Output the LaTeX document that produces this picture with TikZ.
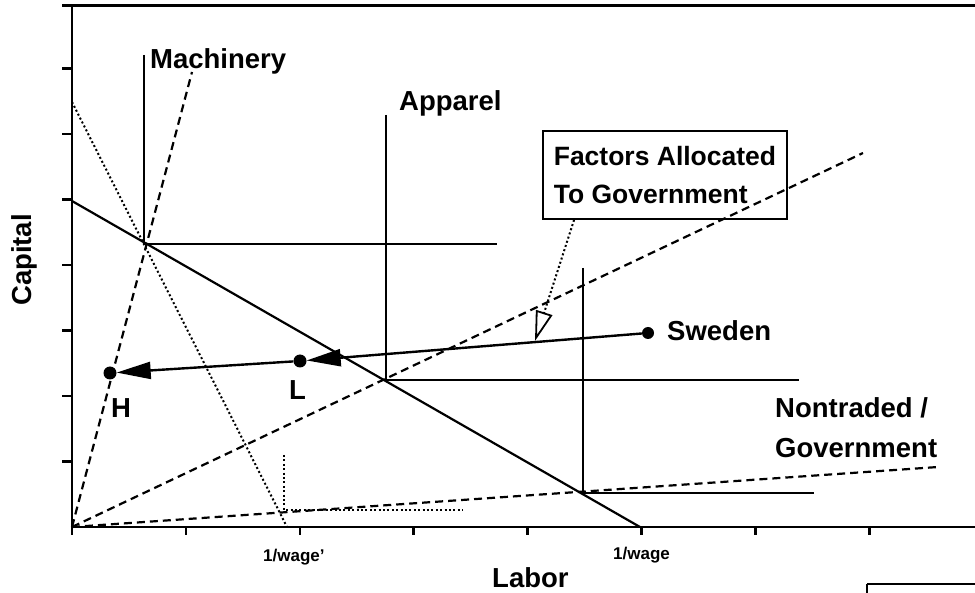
\documentclass[tikz,border=0pt]{standalone}
\usepackage{fontspec}
\setmainfont{Liberation Sans}
\usetikzlibrary{arrows.meta,calc}
\begin{document}
\begin{tikzpicture}[x=1pt,y=-1pt,
  axis/.style={line width=2.5pt},
  iso/.style={line width=2.2pt},
  ray/.style={line width=2.2pt, dash pattern=on 8pt off 5pt},
  dotline/.style={line width=2pt, dash pattern=on 2pt off 2.4pt},
  lbl/.style={font=\fontsize{27.5}{38}\selectfont\bfseries, inner sep=0pt, anchor=base west},
  small/.style={font=\fontsize{17}{20}\selectfont\bfseries, inner sep=0pt, anchor=base west},
  dotnode/.style={circle, fill=black, inner sep=0pt, minimum size=13pt},
  flow/.style={line width=2.4pt, -{Triangle[length=34pt,width=17pt]}},
]
\useasboundingbox (0,0) rectangle (975,593);

% axes and frame
\coordinate (O) at (72,527);
\coordinate (ytop) at (72,5.5);
\coordinate (xend) at (975,527);
\draw[axis] (62,5.5) -- (975,5.5);
\draw[axis] (ytop) -- (O) -- (xend);
\foreach \k in {1,...,7} \draw[axis] (62,527-65.5*\k) -- (72,527-65.5*\k);
\foreach \k in {0,...,7} \draw[axis] (72+113.9*\k,527) -- (72+113.9*\k,535);
% fragment bottom right
\coordinate (fr) at (867,584);
\draw[iso] (fr) -- (975,584);
\draw[iso] (fr) -- (867,593);

% corners of isoquants
\coordinate (mc) at (144,244);
\coordinate (ac) at (386,380);
\coordinate (nc) at (583,493);
\draw[iso] (144,55) -- (mc) -- (497,244);
\draw[iso] (386,115) -- (ac) -- (799,380);
\draw[iso] (583,268) -- (nc) -- (814,493);

% isocost lines
\coordinate (iso1a) at (72,201);
\coordinate (iso1b) at (640,527);
\draw[iso] (iso1a) -- (iso1b);
\coordinate (iso2a) at (72,102);
\coordinate (iso2b) at (287,527);
\draw[dotline] (iso2a) -- (iso2b);
\coordinate (dc) at (284,510);
\draw[dotline] (284,455) -- (dc) -- (463,510);

% rays from origin
\draw[ray] (O) -- (192,72);
\draw[ray] (O) -- (863,153);
\draw[ray] (O) -- (938,467);

% endowment points
\node[dotnode, minimum size=12pt] (sweden) at (648,333) {};
\node[dotnode] (ldot) at (300,361) {};
\node[dotnode] (hdot) at (110,373) {};
\draw[flow] (sweden) -- (ldot);
\draw[flow] (ldot) -- (hdot);

% callout
\node[draw, line width=1.8pt, minimum width=244pt, minimum height=88pt, align=left,
      font=\fontsize{26.5}{38}\selectfont\bfseries, inner sep=0pt] (box) at (665,175)
      {Factors Allocated\\To Government};
\coordinate (ptr) at (535,341);
\draw[dotline, -{Triangle[open,length=30pt,width=17pt,line width=1.8pt]}]
  ($(box.south west)!0.13!(box.south east)$) -- (ptr);

% labels
\node[lbl] (tmach) at (150,69) {Machinery};
\node[lbl] (tapp) at (399,111) {Apparel};
\node[lbl] (tswe) at (667,341) {Sweden};
\node[lbl] (tnt1) at (775,418) {Nontraded /};
\node[lbl] (tnt2) at (775,457) {Government};
\node[lbl] (th) at (111,418) {H};
\node[lbl] (tl) at (289,400) {L};
\node[lbl] (tlab) at (492,587) {Labor};
\node[lbl, rotate=90, anchor=base] (tcap) at (31,260) {Capital};
\node[small] (tw1) at (263,561) {1/wage\symbol{"27}};
\node[small] (tw2) at (613,559) {1/wage};
\end{tikzpicture}
\end{document}
